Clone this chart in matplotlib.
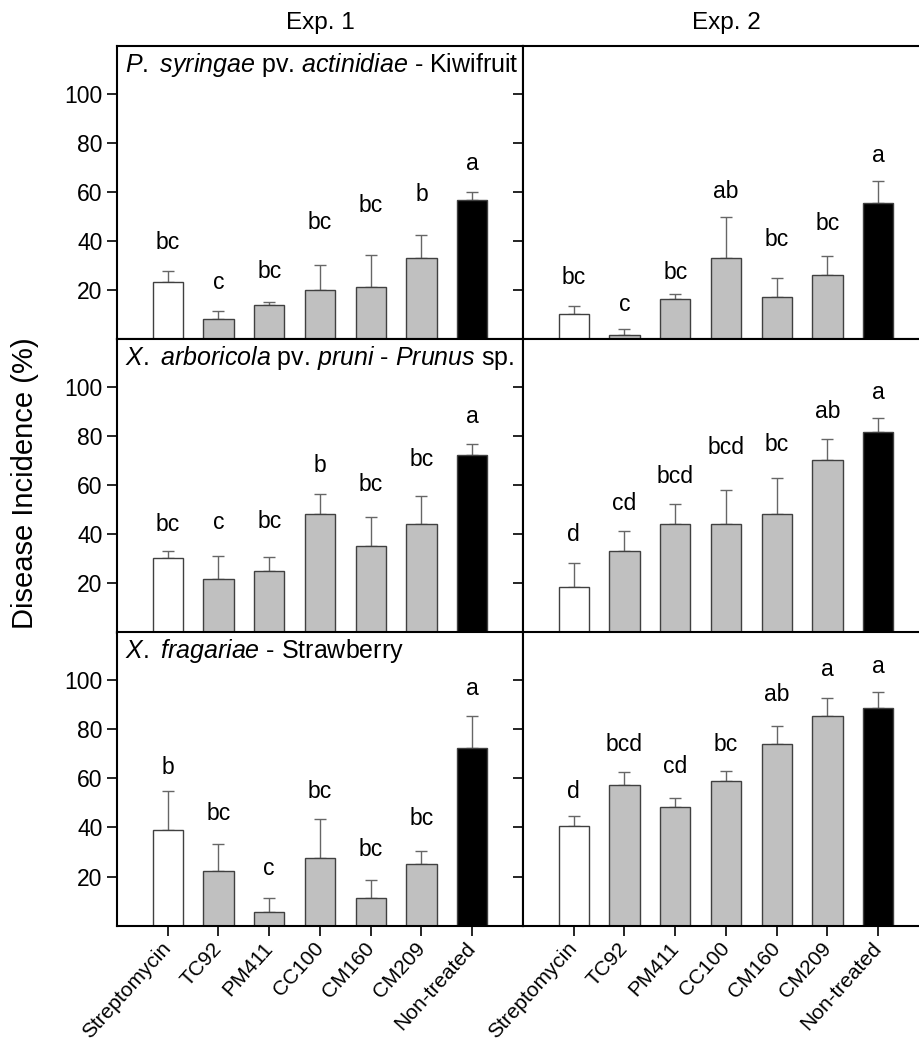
import matplotlib
matplotlib.use("Agg")
import matplotlib.pyplot as plt
import numpy as np

plt.rcParams['font.family'] = ['Liberation Sans', 'DejaVu Sans']
plt.rcParams['mathtext.fontset'] = 'custom'
plt.rcParams['mathtext.rm'] = 'Liberation Sans'
plt.rcParams['mathtext.it'] = 'Liberation Sans:italic'

treatments = ['Streptomycin', 'TC92', 'PM411', 'CC100', 'CM160', 'CM209', 'Non-treated']
experiments = ['Exp. 1', 'Exp. 2']
pathosystems = [r'$\it{P.}$ $\it{syringae}$ pv. $\it{actinidiae}$ - Kiwifruit',
                r'$\it{X.}$ $\it{arboricola}$ pv. $\it{pruni}$ - $\it{Prunus}$ sp.',
                r'$\it{X.}$ $\it{fragariae}$ - Strawberry']

# mean disease incidence (%) and standard error, per pathosystem / experiment
psa_exp1 = [23.3, 8.4, 13.8, 20.0, 21.2, 33.0, 56.8]
psa_exp1_se = [4.5, 3.1, 1.2, 10.2, 13.3, 9.6, 3.1]
psa_exp1_let = ['bc', 'c', 'bc', 'bc', 'bc', 'b', 'a']
psa_exp1_lety = [39.6, 23.0, 27.5, 47.5, 54.5, 58.9, 71.5]

psa_exp2 = [10.2, 1.8, 16.5, 33.0, 17.0, 26.2, 55.5]
psa_exp2_se = [3.4, 2.2, 1.9, 16.9, 7.9, 7.8, 9.0]
psa_exp2_let = ['bc', 'c', 'bc', 'ab', 'bc', 'bc', 'a']
psa_exp2_lety = [25.2, 14.2, 27.2, 60.3, 40.8, 47.0, 74.7]

xap_exp1 = [30.4, 22.0, 24.9, 48.2, 35.1, 44.4, 72.5]
xap_exp1_se = [2.9, 9.1, 5.9, 8.1, 12.0, 11.1, 4.3]
xap_exp1_let = ['bc', 'c', 'bc', 'b', 'bc', 'bc', 'a']
xap_exp1_lety = [44.0, 44.7, 45.1, 67.9, 60.4, 70.6, 88.1]

xap_exp2 = [18.4, 33.4, 44.3, 44.3, 48.2, 70.3, 81.6]
xap_exp2_se = [9.9, 7.9, 7.9, 13.8, 14.7, 8.7, 5.9]
xap_exp2_let = ['d', 'cd', 'bcd', 'bcd', 'bc', 'ab', 'a']
xap_exp2_lety = [39.9, 52.6, 63.4, 75.3, 76.7, 90.1, 97.7]

xf_exp1 = [38.9, 22.4, 5.4, 27.7, 11.2, 24.9, 72.2]
xf_exp1_se = [15.8, 11.0, 5.9, 15.8, 7.2, 5.4, 13.2]
xf_exp1_let = ['b', 'bc', 'c', 'bc', 'bc', 'bc', 'a']
xf_exp1_lety = [64.4, 45.5, 23.2, 54.7, 31.1, 43.5, 96.5]

xf_exp2 = [40.5, 57.4, 48.2, 58.9, 74.0, 85.3, 88.8]
xf_exp2_se = [4.1, 5.0, 3.7, 4.1, 7.3, 7.3, 6.5]
xf_exp2_let = ['d', 'bcd', 'cd', 'bc', 'ab', 'a', 'a']
xf_exp2_lety = [54.6, 73.9, 64.7, 73.9, 94.0, 104.3, 105.4]

panels = [
    [(psa_exp1, psa_exp1_se, psa_exp1_let, psa_exp1_lety),
     (psa_exp2, psa_exp2_se, psa_exp2_let, psa_exp2_lety)],
    [(xap_exp1, xap_exp1_se, xap_exp1_let, xap_exp1_lety),
     (xap_exp2, xap_exp2_se, xap_exp2_let, xap_exp2_lety)],
    [(xf_exp1, xf_exp1_se, xf_exp1_let, xf_exp1_lety),
     (xf_exp2, xf_exp2_se, xf_exp2_let, xf_exp2_lety)],
]

colors = ['white'] + ['#c0c0c0'] * 5 + ['black']

fig = plt.figure(figsize=(9.2, 10.44), dpi=100)

W, H = 920, 1044
left0 = 117
pw = 406
ph = 293.3
bottoms = [339.2, 632.5, 925.6]

x = np.arange(len(treatments))
for r in range(3):
    for c in range(2):
        ax = fig.add_axes([(left0 + c * pw) / W, 1 - bottoms[r] / H, pw / W, ph / H])
        vals, se, let, lety = panels[r][c]
        ax.bar(x, vals, width=0.6, color=colors, edgecolor='#404040', linewidth=1.0, zorder=2)
        ax.errorbar(x, vals, yerr=[np.zeros(len(se)), se], fmt='none', ecolor='#666666',
                    elinewidth=1.0, capsize=4, capthick=1.0, zorder=1)
        for xi, t, ty in zip(x, let, lety):
            ax.text(xi, ty, t, ha='center', va='center', fontsize=16.5)
        ax.set_xlim(-1, 7)
        ax.set_ylim(0, 119.5)
        ax.set_yticks([20, 40, 60, 80, 100])
        ax.set_xticks(x)
        ax.tick_params(direction='out', length=7, width=1.2, labelsize=16.5, colors='black')
        for sp in ax.spines.values():
            sp.set_linewidth(1.5)
        if c == 1:
            ax.set_yticklabels([])
        if r < 2:
            ax.set_xticklabels([])
        else:
            ax.set_xticklabels(treatments, rotation=48, ha='right', va='center',
                               rotation_mode='anchor', fontsize=15)
            ax.tick_params(axis='x', pad=7)
        if c == 0:
            ax.text(0.02, 0.935, pathosystems[r], transform=ax.transAxes,
                    ha='left', va='center', fontsize=18)
        if r == 0:
            ax.set_title(experiments[c], fontsize=17.5, pad=12)

fig.text(25 / W, 1 - 483 / H, 'Disease Incidence (%)', rotation=90,
         ha='center', va='center', fontsize=21)

fig.savefig('out.png', dpi=100)
